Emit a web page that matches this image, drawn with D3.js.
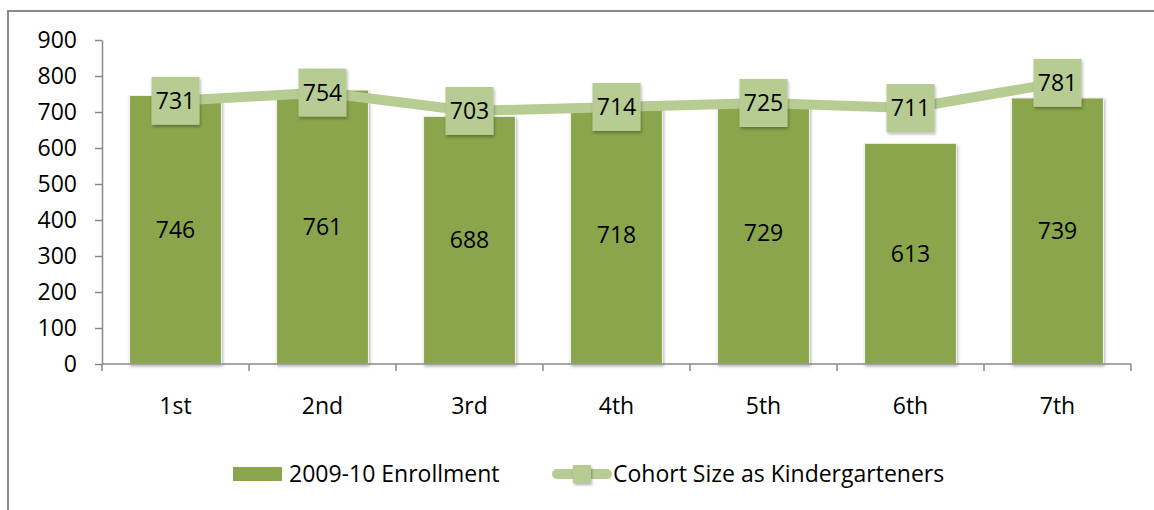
<!DOCTYPE html>
<html>
<head>
<meta charset="utf-8">
<script src="https://cdn.jsdelivr.net/npm/d3@7"></script>
<style>
  html, body { margin: 0; padding: 0; background: #fff; }
  svg { display: block; font-family: "Open Sans", Lato, sans-serif; }
</style>
</head>
<body>
<svg id="chart" width="1154" height="510"></svg>
<script>
// Grade levels on the x axis
const grades = ["1st", "2nd", "3rd", "4th", "5th", "6th", "7th"];
// Current enrollment per grade (bars)
const enrollment = [746, 761, 688, 718, 729, 613, 739];
// Size of each cohort when it was in kindergarten (line)
const cohortSize = [731, 754, 703, 714, 725, 711, 781];
// Y axis ticks
const yTicks = [0, 100, 200, 300, 400, 500, 600, 700, 800, 900];

const seriesNames = ["2009-10 Enrollment", "Cohort Size as Kindergarteners"];
const barColor = "#8aa54c";
const lineColor = "#b6cc93";
const fontSize = 23;

const svg = d3.select("#chart");
const plot = { left: 102, right: 1131, top: 40, bottom: 364 };

// Outer frame (top and left edges)
svg.append("line").attr("x1", 8).attr("x2", 1154).attr("y1", 11).attr("y2", 11)
  .attr("stroke", "#898989").attr("stroke-width", 2);
svg.append("line").attr("x1", 8).attr("x2", 8).attr("y1", 10).attr("y2", 510)
  .attr("stroke", "#898989").attr("stroke-width", 2);

const defs = svg.append("defs");
const shadow = defs.append("filter").attr("id", "shadow")
  .attr("x", "-20%").attr("y", "-20%").attr("width", "140%").attr("height", "140%");
shadow.append("feDropShadow").attr("dx", 1).attr("dy", 2).attr("stdDeviation", 1.6)
  .attr("flood-color", "#000").attr("flood-opacity", 0.3);

const x = d3.scaleBand().domain(grades).range([plot.left, plot.right])
  .paddingInner(0.375).paddingOuter(0.1875);
const xOuter = d3.scaleBand().domain(grades).range([plot.left, plot.right]);
const y = d3.scaleLinear().domain([0, 900]).range([plot.bottom, plot.top]);

// Y axis
const yAxis = svg.append("g").attr("transform", `translate(${plot.left},0)`)
  .call(d3.axisLeft(y).tickValues(yTicks).tickSize(7).tickPadding(18).tickSizeOuter(0));
yAxis.select(".domain").attr("stroke", "#898989").attr("stroke-width", 1.5);
yAxis.selectAll(".tick line").attr("stroke", "#898989").attr("stroke-width", 1.5);
yAxis.selectAll(".tick text").attr("font-size", fontSize).attr("fill", "#000")
  .attr("font-family", "'Open Sans', sans-serif");

// Bars
const bars = svg.append("g");
bars.selectAll("rect").data(enrollment).join("rect")
  .attr("x", (d, i) => x(grades[i]))
  .attr("width", x.bandwidth())
  .attr("y", d => y(d))
  .attr("height", d => y(0) - y(d))
  .attr("fill", barColor)
  .attr("stroke", "#f4f4f4").attr("stroke-width", 1)
  .attr("filter", "url(#shadow)");

// X axis
const xAxisG = svg.append("g").attr("transform", `translate(0,${plot.bottom})`);
xAxisG.append("line").attr("x1", plot.left).attr("x2", plot.right)
  .attr("stroke", "#898989").attr("stroke-width", 1.5);
const xTickPos = grades.map(g => xOuter(g)).concat([plot.right]);
xAxisG.selectAll(".xt").data(xTickPos).join("line").attr("class", "xt")
  .attr("x1", d => d).attr("x2", d => d).attr("y1", 0).attr("y2", 7)
  .attr("stroke", "#898989").attr("stroke-width", 1.5);
xAxisG.selectAll("text").data(grades).join("text")
  .attr("x", d => x(d) + x.bandwidth() / 2)
  .attr("y", 42)
  .attr("dy", "0.35em")
  .attr("text-anchor", "middle")
  .attr("font-size", fontSize).attr("fill", "#000")
  .text(d => d);

// Bar value labels
svg.append("g").selectAll("text").data(enrollment).join("text")
  .attr("x", (d, i) => x(grades[i]) + x.bandwidth() / 2)
  .attr("y", d => (y(d) + y(0)) / 2)
  .attr("dy", "0.35em")
  .attr("text-anchor", "middle")
  .attr("font-size", fontSize).attr("fill", "#000")
  .text(d => d);

// Cohort line
const cx = i => x(grades[i]) + x.bandwidth() / 2;
const line = d3.line().x((d, i) => cx(i)).y(d => y(d));
svg.append("path").datum(cohortSize)
  .attr("d", line)
  .attr("fill", "none")
  .attr("stroke", lineColor)
  .attr("stroke-width", 10)
  .attr("stroke-linejoin", "round");

// Square markers with value labels
const markerSize = 48;
const markers = svg.append("g");
markers.selectAll("rect").data(cohortSize).join("rect")
  .attr("x", (d, i) => cx(i) - markerSize / 2)
  .attr("y", d => y(d) - markerSize / 2)
  .attr("width", markerSize).attr("height", markerSize)
  .attr("fill", lineColor)
  .attr("filter", "url(#shadow)");
markers.selectAll("text").data(cohortSize).join("text")
  .attr("x", (d, i) => cx(i))
  .attr("y", d => y(d))
  .attr("dy", "0.35em")
  .attr("text-anchor", "middle")
  .attr("font-size", fontSize).attr("fill", "#000")
  .text(d => d);

// Legend
const legend = svg.append("g").attr("transform", "translate(0,474)");
legend.append("rect").attr("x", 233).attr("y", -7).attr("width", 49).attr("height", 14)
  .attr("fill", barColor);
legend.append("text").attr("x", 289).attr("y", 0).attr("dy", "0.35em")
  .attr("font-size", fontSize).attr("fill", "#000").text(seriesNames[0]);
legend.append("line").attr("x1", 557).attr("x2", 607).attr("y1", 0).attr("y2", 0)
  .attr("stroke", lineColor).attr("stroke-width", 10).attr("stroke-linecap", "round");
legend.append("rect").attr("x", 573).attr("y", -9).attr("width", 18).attr("height", 18)
  .attr("fill", lineColor).attr("filter", "url(#shadow)");
legend.append("text").attr("x", 613).attr("y", 0).attr("dy", "0.35em")
  .attr("font-size", fontSize).attr("fill", "#000").text(seriesNames[1]);
</script>
</body>
</html>
